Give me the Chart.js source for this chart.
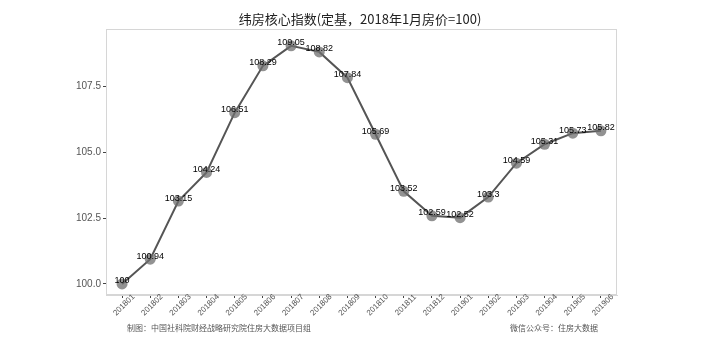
<!DOCTYPE html>
<html><head><meta charset="utf-8">
<script src="https://cdn.jsdelivr.net/npm/chart.js@4"></script>
<style>html,body{margin:0;padding:0;background:#fff}#w{width:703px;height:358px}</style>
</head><body><div id="w"><canvas id="c" width="703" height="358"></canvas></div>
<script>
const months = ['201801','201802','201803','201804','201805','201806','201807','201808','201809','201810','201811','201812','201901','201902','201903','201904','201905','201906'];
const indexValues = [100, 100.94, 103.15, 104.24, 106.51, 108.29, 109.05, 108.82, 107.84, 105.69, 103.52, 102.59, 102.52, 103.3, 104.59, 105.31, 105.73, 105.82];
const valueLabels = ['100','100.94','103.15','104.24','106.51','108.29','109.05','108.82','107.84','105.69','103.52','102.59','102.52','103.3','104.59','105.31','105.73','105.82'];
const yTicks = [100, 102.5, 105, 107.5];
const titleText = '纬房核心指数(定基，2018年1月房价=100)';
const noteLeft = '制图：中国社科院财经战略研究院住房大数据项目组';
const noteRight = '微信公众号：住房大数据';

const decor = {
  id: 'decor',
  beforeDatasetsDraw(chart) {
    const {ctx, chartArea: a} = chart;
    ctx.save();
    ctx.strokeStyle = '#d6d6d6';
    ctx.lineWidth = 1;
    ctx.strokeRect(a.left + 0.5, a.top + 0.5, a.right - a.left - 1, a.bottom - a.top - 1);
    ctx.restore();
  },
  afterDraw(chart) {
    const {ctx, scales} = chart;
    ctx.save();
    ctx.fillStyle = '#222';
    ctx.font = '13px "Noto Sans CJK SC", "Liberation Sans", sans-serif';
    ctx.textAlign = 'center';
    ctx.textBaseline = 'middle';
    ctx.fillText(titleText, 360, 19);
    // rotated x labels, centered under ticks
    ctx.font = '8px "Liberation Sans", Arial, sans-serif';
    ctx.fillStyle = '#555';
    months.forEach((m, i) => {
      const x = scales.x.getPixelForValue(i);
      ctx.save();
      ctx.translate(x + 2, 305);
      ctx.rotate(-Math.PI / 4);
      ctx.textAlign = 'center';
      ctx.textBaseline = 'middle';
      ctx.fillText(m, 0, 0);
      ctx.restore();
    });
    ctx.font = '8px "Noto Sans CJK SC", serif';
    ctx.fillStyle = '#555';
    ctx.textAlign = 'left';
    ctx.fillText(noteLeft, 127, 328);
    ctx.fillText(noteRight, 510, 328);
    // value labels
    const meta = chart.getDatasetMeta(0);
    ctx.font = '9px "Liberation Sans", Arial, sans-serif';
    ctx.fillStyle = '#000';
    ctx.textAlign = 'center';
    meta.data.forEach((p, i) => {
      ctx.fillText(valueLabels[i], p.x, p.y - 3);
    });
    ctx.restore();
  }
};

new Chart(document.getElementById('c'), {
  type: 'line',
  data: {
    datasets: [{
      data: indexValues.map((v, i) => ({x: i, y: v})),
      borderColor: '#555555',
      borderWidth: 2,
      pointRadius: 5.5,
      pointBackgroundColor: 'rgba(110,110,110,0.75)',
      pointBorderColor: 'rgba(110,110,110,0.75)',
      pointBorderWidth: 0,
      tension: 0
    }]
  },
  options: {
    responsive: false,
    animation: false,
    layout: {padding: {left: 0, right: 86, top: 29, bottom: 0}},
    plugins: {legend: {display: false}, tooltip: {enabled: false}},
    scales: {
      x: {
        type: 'linear',
        min: -0.57, max: 17.57,
        afterBuildTicks(s) { s.ticks = months.map((m, i) => ({value: i})); },
        afterFit(s) { s.height = 63; },
        border: {display: true, color: '#d6d6d6'},
        grid: {display: true, drawOnChartArea: false, tickLength: 3, color: '#444'},
        ticks: {
          display: false
        }
      },
      y: {
        min: 99.58, max: 109.69,
        afterBuildTicks(s) { s.ticks = yTicks.map(v => ({value: v})); },
        afterFit(s) { s.width = 106; },
        border: {display: true, color: '#d6d6d6'},
        grid: {display: true, drawOnChartArea: false, tickLength: 3, color: '#444'},
        ticks: {
          callback: v => v.toFixed(1),
          color: '#555', padding: 2,
          font: {family: '"Liberation Sans", Arial, sans-serif', size: 10}
        }
      }
    }
  },
  plugins: [decor]
});
</script>
</body></html>
